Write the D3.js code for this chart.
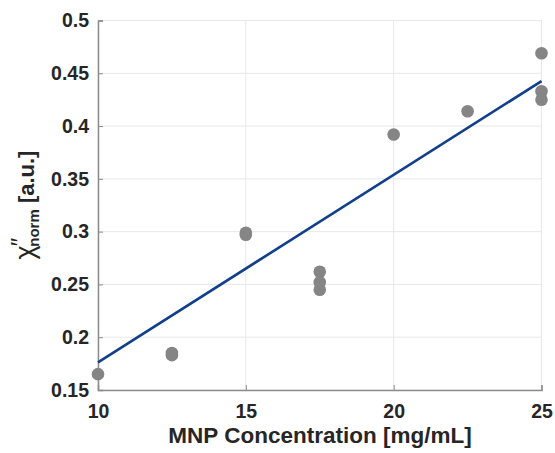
<!DOCTYPE html>
<html>
<head>
<meta charset="utf-8">
<script src="https://cdn.jsdelivr.net/npm/d3@7"></script>
<style>
  html, body { margin: 0; padding: 0; background: #fff; }
  svg { display: block; }
  text { font-family: "Liberation Sans", Arial, Helvetica, sans-serif; font-weight: bold; fill: #262626; }
</style>
</head>
<body>
<svg id="chart" width="555" height="453"></svg>
<script>
// Measured samples: MNP concentration [mg/mL] vs normalized chi''
const concentration = [10, 12.5, 12.5, 15, 15, 17.5, 17.5, 17.5, 20, 22.5, 25, 25, 25];
const chiNorm = [0.165, 0.183, 0.185, 0.297, 0.299, 0.262, 0.252, 0.245, 0.392, 0.414, 0.469, 0.433, 0.425];

// Linear fit endpoints
const fitX = [10, 25];
const fitY = [0.1762, 0.4426];

const xTicks = [10, 15, 20, 25];
const yTicks = [0.15, 0.2, 0.25, 0.3, 0.35, 0.4, 0.45, 0.5];

const svg = d3.select("#chart");
const x = d3.scaleLinear().domain([10, 25]).range([98, 541.5]);
const y = d3.scaleLinear().domain([0.15, 0.5]).range([390, 20.5]);

// grid
const grid = svg.append("g").attr("stroke", "#e8e8e8").attr("stroke-width", 1);
grid.selectAll("line.gy").data(yTicks).join("line")
  .attr("x1", x(10)).attr("x2", x(25))
  .attr("y1", d => y(d)).attr("y2", d => y(d));
grid.selectAll("line.gx").data(xTicks).join("line")
  .attr("y1", y(0.15)).attr("y2", y(0.5))
  .attr("x1", d => x(d)).attr("x2", d => x(d));

// axes
const xAxis = d3.axisBottom(x).tickValues(xTicks).tickSize(-5).tickPadding(14).tickFormat(d3.format("d"));
const yAxis = d3.axisLeft(y).tickValues(yTicks).tickSize(-5).tickPadding(9).tickFormat(d => String(d));

const gx = svg.append("g").attr("transform", `translate(0,${y(0.15)})`).call(xAxis);
const gy = svg.append("g").attr("transform", `translate(${x(10)},0)`).call(yAxis);
[gx, gy].forEach(g => {
  g.select(".domain").attr("stroke", "#8c8c8c").attr("stroke-width", 1.5);
  g.selectAll(".tick line").attr("stroke", "#8c8c8c");
  g.selectAll(".tick text").attr("font-size", 19.5).attr("font-family", null).attr("fill", "#262626");
});
gx.selectAll(".tick text").attr("dy", "0.71em");

// fit line
svg.append("line")
  .attr("x1", x(fitX[0])).attr("y1", y(fitY[0]))
  .attr("x2", x(fitX[1])).attr("y2", y(fitY[1]))
  .attr("stroke", "#113f8c").attr("stroke-width", 2.6);

// data points
svg.append("g").selectAll("circle").data(concentration).join("circle")
  .attr("cx", d => x(d))
  .attr("cy", (d, i) => y(chiNorm[i]))
  .attr("r", 6.3)
  .attr("fill", "#858585");

// axis titles
svg.append("text")
  .attr("x", 320).attr("y", 443)
  .attr("text-anchor", "middle")
  .attr("font-size", 22.5)
  .text("MNP Concentration [mg/mL]");

const yt = svg.append("text")
  .attr("transform", "translate(34,205) rotate(-90)")
  .attr("text-anchor", "middle")
  .attr("font-size", 22);
yt.append("tspan").attr("font-weight", "normal").attr("font-size", 27).text("χ");
yt.append("tspan").attr("font-weight", "normal").attr("font-size", 24).attr("dx", -1).attr("dy", -6).text("″");
yt.append("tspan").attr("font-size", 15).attr("dx", -9).attr("dy", 11).text("norm");
yt.append("tspan").attr("dy", -5).text(" [a.u.]");
</script>
</body>
</html>
